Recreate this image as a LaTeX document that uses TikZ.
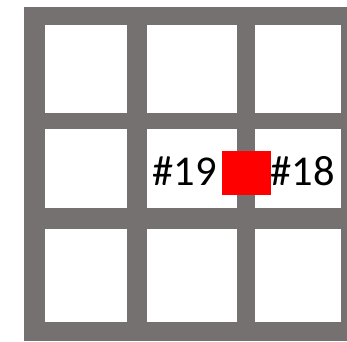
\documentclass[tikz,border=0pt]{standalone}
\usepackage{fontspec}
\setmainfont{Carlito}
\definecolor{gridgray}{RGB}{118,113,113}
\begin{document}
\begin{tikzpicture}[x=1pt,y=-1pt,
  cell/.style={fill=white},
  lbl/.style={inner sep=0pt,anchor=base west,font=\fontsize{42.5}{42.5}\selectfont}]
\useasboundingbox (0,0) rectangle (347,341);
\fill[gridgray] (24.3,6.7) rectangle (347,341);
\foreach \xa/\xb in {45/126.7,146.7/236.7,255.3/340.7}
  \foreach \ya/\yb in {25/112.7,129.3/208.3,229/322.3}
    \fill[cell] (\xa,\ya) rectangle (\xb,\yb);
\fill[red] (222.3,150.7) rectangle (271,194.7);
\node[lbl] (l19) at (152.5,185.5) {\#19};
\node[lbl] (l18) at (270.5,185.5) {\#18};
\end{tikzpicture}
\end{document}
